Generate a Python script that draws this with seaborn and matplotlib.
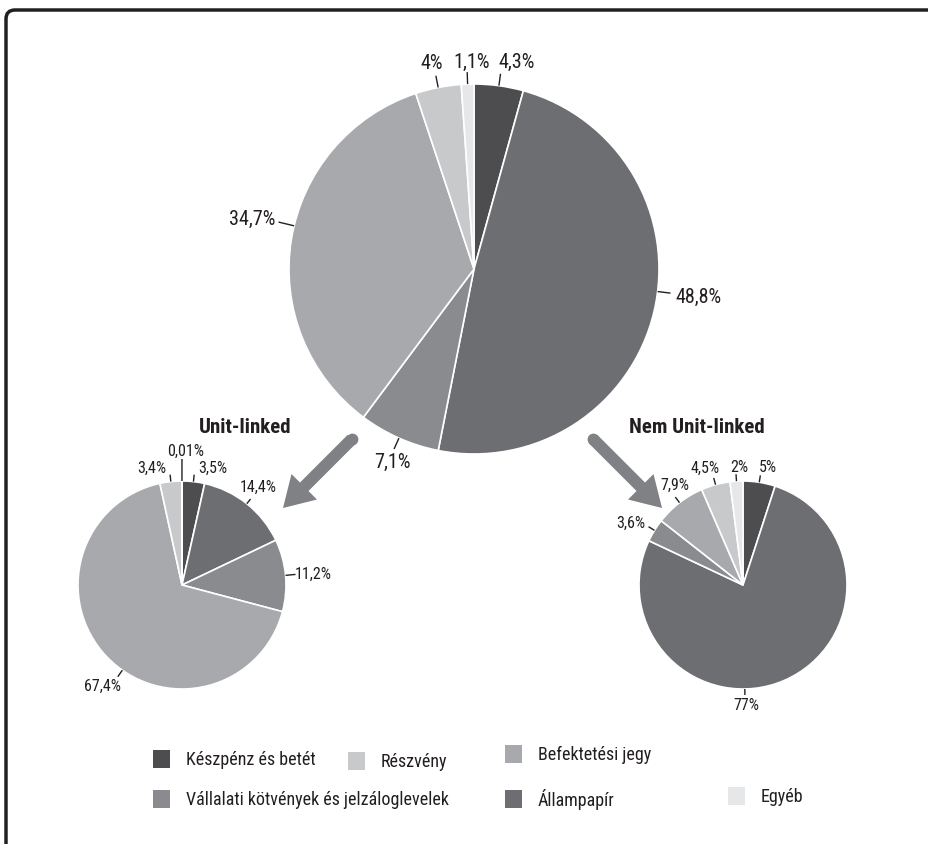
import numpy as np
import pandas as pd
import seaborn as sns
import matplotlib
matplotlib.use("Agg")
import matplotlib.pyplot as plt
from matplotlib import font_manager
from matplotlib.patches import FancyBboxPatch, Rectangle, FancyArrow

# ---------------- data ----------------
categories = ["Készpénz és betét", "Állampapír",
              "Vállalati kötvények és jelzáloglevelek", "Befektetési jegy",
              "Részvény", "Egyéb"]
total_values = [4.3, 48.8, 7.1, 34.7, 4.0, 1.1]
total_labels = ["4,3%", "48,8%", "7,1%", "34,7%", "4%", "1,1%"]
ul_values = [3.5, 14.4, 11.2, 67.4, 3.4, 0.01]
ul_labels = ["3,5%", "14,4%", "11,2%", "67,4%", "3,4%", "0,01%"]
nul_values = [5.0, 77.0, 3.6, 7.9, 4.5, 2.0]
nul_labels = ["5%", "77%", "3,6%", "7,9%", "4,5%", "2%"]
titles = ["Unit-linked", "Nem Unit-linked"]
palette = ["#4d4d4f", "#6d6e71", "#8a8b8e", "#a7a9ac", "#c8c9cb", "#e6e7e8"]

df = pd.DataFrame({"kategoria": categories, "osszes": total_values,
                   "ul": ul_values, "nem_ul": nul_values})

# ---------------- style ----------------
sns.set_theme(style="white")
avail = {f.name for f in font_manager.fontManager.ttflist}
fam = "DejaVu Sans"
for cand in ["Liberation Sans Narrow", "Roboto Condensed", "Open Sans Condensed", "Liberation Sans"]:
    if cand in avail:
        fam = cand
        break
plt.rcParams["font.family"] = [fam, "DejaVu Sans"]
TXT = "#231f20"

W, H = 929, 845
fig = plt.figure(figsize=(W / 100, H / 100), dpi=100)
ax = fig.add_axes([0, 0, 1, 1])

def Y(py):
    return H - py

# label layout: (angle override or None, leader length, dx, dy) in pixels (dy downwards)
big_layout = [(None, 12, 16, -12), (-7, 13, 28, 3), (None, 12, -2, 12),
              (166.5, 16, -26, -4), (None, 12, -4, -13), (None, 12, 4, -11)]
ul_layout = [(None, 7, 19, -7), (None, 6, 8, -13), (None, 10, 18, -1),
             (-125, 8, -15, 9), (None, 7, -18, -7), (None, 22, 4, -9)]
nul_layout = [(None, 7, 8, -9), (-89, 6, 1, 10), (None, 7, -18, -4),
              (None, 7, 0, -13), (None, 7, -9, -11), (None, 7, 3, -8)]

def draw_pie(values, labels, cx, cy, r, layout, fs):
    wedges, _ = ax.pie(values, colors=palette, startangle=90, counterclock=False,
                       center=(cx, Y(cy)), radius=r, normalize=True,
                       wedgeprops=dict(edgecolor="white", linewidth=1.2))
    for w, lab, (ang, ll, dx, dy) in zip(wedges, labels, layout):
        a = (w.theta1 + w.theta2) / 2 if ang is None else ang
        ca, sa = np.cos(np.radians(a)), np.sin(np.radians(a))
        x0, y0 = cx + r * ca, Y(cy) + r * sa
        x1, y1 = cx + (r + ll) * ca, Y(cy) + (r + ll) * sa
        ax.plot([x0, x1], [y0, y1], color=TXT, lw=1.0, solid_capstyle="butt")
        ax.text(x1 + dx, y1 - dy, lab, ha="center", va="center",
                fontsize=fs, color=TXT)

draw_pie(df["osszes"], total_labels, 474, 270, 185, big_layout, 14.5)
draw_pie(df["ul"], ul_labels, 182, 586, 104, ul_layout, 11.5)
draw_pie(df["nem_ul"], nul_labels, 743, 586, 104, nul_layout, 11.5)

ax.text(245, Y(428), titles[0], ha="center", va="center", fontsize=15,
        fontweight="bold", color=TXT)
ax.text(697, Y(428), titles[1], ha="center", va="center", fontsize=15,
        fontweight="bold", color=TXT)

# arrows
arrow_col = "#808184"
for (x0, y0, x1, y1) in [(352, 440, 283, 509), (593, 440, 662, 509)]:
    ax.add_patch(FancyArrow(x0, Y(y0), x1 - x0, Y(y1) - Y(y0), width=12,
                            head_width=36, head_length=30,
                            length_includes_head=True, color=arrow_col, lw=0))
    ax.plot([x0], [Y(y0)], marker="o", ms=8.5, color=arrow_col, mec="none")

# legend (manual placement)
leg_pos = {
    "Készpénz és betét": (153, 760),
    "Részvény": (348, 762),
    "Befektetési jegy": (505, 755),
    "Vállalati kötvények és jelzáloglevelek": (153, 800),
    "Állampapír": (505, 800),
    "Egyéb": (728, 797),
}
for cat, col in zip(categories, palette):
    sx, sy = leg_pos[cat]
    ax.add_patch(Rectangle((sx, Y(sy) - 9), 17, 18, facecolor=col, edgecolor="none"))
    ax.text(sx + 33, Y(sy), cat, ha="left", va="center", fontsize=13, color=TXT)

# frame (open at right and bottom)
ax.add_patch(FancyBboxPatch((6, Y(1000)), 1100, Y(11) - Y(1000),
                            boxstyle="round,pad=0,rounding_size=9",
                            facecolor="none", edgecolor=TXT, lw=2.5,
                            clip_on=False))

ax.set_xlim(0, W)
ax.set_ylim(0, H)
ax.set_aspect("equal")
ax.set_axis_off()
fig.savefig("out.png", dpi=100)
